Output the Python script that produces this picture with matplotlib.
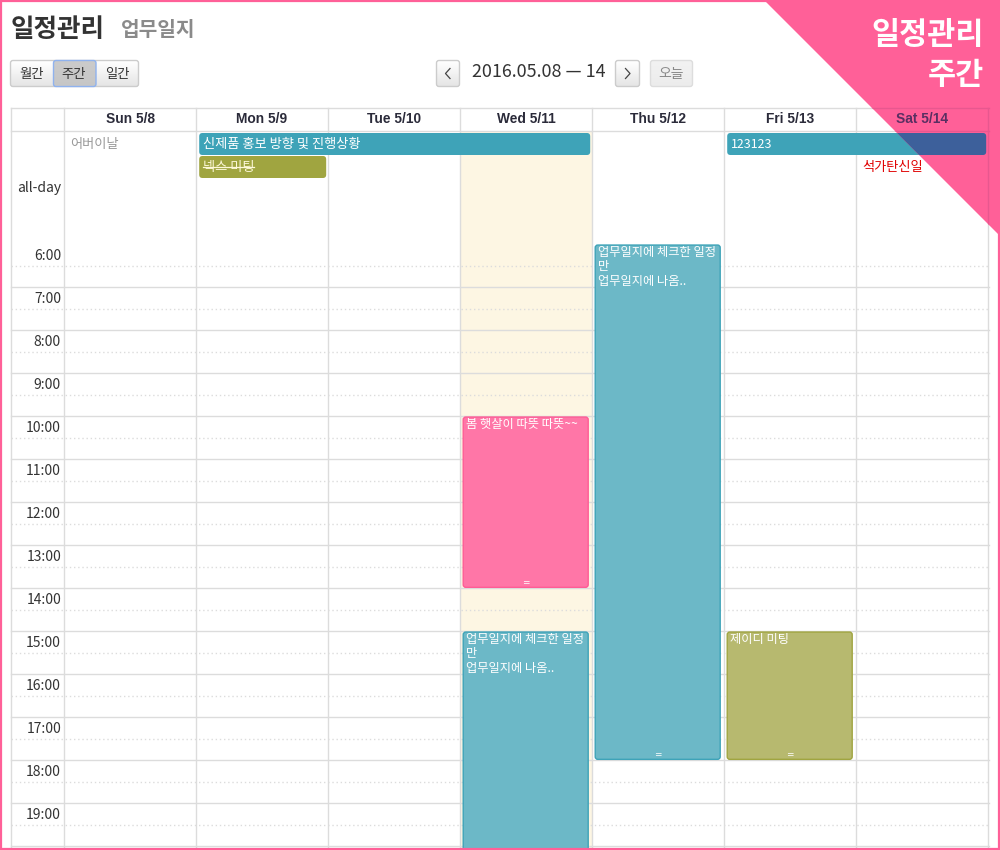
import numpy as np
import matplotlib
matplotlib.use("Agg")
import matplotlib.pyplot as plt
from matplotlib.patches import FancyBboxPatch, Polygon, Rectangle
from matplotlib.transforms import blended_transform_factory

plt.rcParams['font.family'] = ['Noto Sans CJK KR', 'DejaVu Sans']

day_labels = ["Sun 5/8", "Mon 5/9", "Tue 5/10", "Wed 5/11", "Thu 5/12", "Fri 5/13", "Sat 5/14"]
hours = [6, 7, 8, 9, 10, 11, 12, 13, 14, 15, 16, 17, 18, 19, 20]
hour_labels = ["6:00", "7:00", "8:00", "9:00", "10:00", "11:00", "12:00", "13:00",
               "14:00", "15:00", "16:00", "17:00", "18:00", "19:00"]
today_index = 3

# timed events
ev_day = [3, 3, 4, 5]
ev_start = [10, 15, 6, 15]
ev_end = [14, 20.5, 18, 18]
ev_text = ["봄 햇살이 따뜻 따뜻~~",
           "업무일지에 체크한 일정\n만\n업무일지에 나옴..",
           "업무일지에 체크한 일정\n만\n업무일지에 나옴..",
           "제이디 미팅"]
ev_fill = ["#ff76a7", "#6cb8c7", "#6cb8c7", "#b7b96f"]
ev_edge = ["#ff5c95", "#3ea3b8", "#3ea3b8", "#a0a540"]

# all-day bars
bar_first = [1, 1, 5]
bar_last = [3, 1, 6]
bar_lane = [0, 1, 0]
bar_text = ["신제품 홍보 방향 및 진행상황", "넥스 미팅", "123123"]
bar_color = ["#3ea3b8", "#a0a540", "#3ea3b8"]

holiday_day = [0, 6]
holiday_lane = [0, 1]
holiday_text = ["어버이날", "석가탄신일"]
holiday_color = ["#999999", "#e00000"]

PINK = "#ff6098"
GRID = "#dcdcdc"
W, H = 1000, 850
COL, ROW = 132.0, 43.0
X0, Y0 = 64.0, 244.4

fig = plt.figure(figsize=(10, 8.5), dpi=100, facecolor="white")

# axes in page pixels for the chrome
px = fig.add_axes([0, 0, 1, 1], zorder=2)
px.set_xlim(0, W)
px.set_ylim(H, 0)
px.axis("off")
px.patch.set_alpha(0)

# calendar axes, x in days and y in hours
ax = fig.add_axes([0, 0, 1, 1], zorder=1)
ax.set_xlim(-X0 / COL, (W - X0) / COL)
ax.set_ylim(6 + (H - Y0) / ROW, 6 - Y0 / ROW)
ax.axis("off")

day_px = blended_transform_factory(ax.transData, px.transData)
px_hour = blended_transform_factory(px.transData, ax.transData)

tri = Polygon([(764, 0), (W, 0), (W, 236)], closed=True, transform=px.transData,
              facecolor=PINK, edgecolor="none", zorder=5)
px.add_patch(tri)


def grid_lines(color, target):
    arts = []
    for h in hours:
        if h > 6:
            arts += target.plot([10.5, 989], [h, h], color=color, lw=1, zorder=2, transform=px_hour)
        arts += target.plot([10.5, 989], [h + 0.51, h + 0.51], color=color, lw=1,
                            ls=(0, (1, 2)), zorder=2, transform=px_hour)
    for d in range(8):
        arts += target.plot([d, d], [107.5, H], color=color, lw=1, zorder=2, transform=day_px)
    arts += target.plot([10.5, 10.5], [107.5, H], color=color, lw=1, zorder=2, transform=px.transData)
    for y in [107.5, 130.5]:
        arts += target.plot([10.5, 989], [y, y], color=color, lw=1, zorder=2, transform=px.transData)
    return arts


# today column
ax.add_patch(Rectangle((today_index, 131), 1, H - 131, transform=day_px,
                       facecolor="#fdf6e3", edgecolor="none", zorder=1))

grid_lines(GRID, ax)
ax.set_xlim(-X0 / COL, (W - X0) / COL)
ax.set_ylim(6 + (H - Y0) / ROW, 6 - Y0 / ROW)

# darker grid seen through the corner
for a in grid_lines("#e8578f", px):
    a.set_zorder(6)
    a.set_clip_path(tri)
px.set_xlim(0, W)
px.set_ylim(H, 0)

# header labels
for i, lab in enumerate(day_labels):
    px.text(i + 0.5, 119, lab, transform=day_px, ha="center", va="center",
            fontsize=9.9, fontweight="bold", family=["Liberation Sans", "DejaVu Sans"],
            color="#5a2f62" if i == 6 else "#2b2b3a", zorder=8)

# hour labels
for h, lab in zip(hours, hour_labels):
    px.text(61, h + 0.26, lab, transform=px_hour, ha="right", va="center",
            fontsize=10, color="#333333", zorder=8)
px.text(61, 188, "all-day", ha="right", va="center", fontsize=10, color="#333333", zorder=8)

# all-day bars
for first, last, lane, label, col in zip(bar_first, bar_last, bar_lane, bar_text, bar_color):
    top = 133 + lane * 23
    box = dict(boxstyle="round,pad=0,rounding_size=0.025", mutation_aspect=132,
               transform=day_px, linewidth=0)
    x = first + 3.2 / COL
    w = last - first + 1 - 5 / COL
    ax.add_patch(FancyBboxPatch((x, top), w, 22, facecolor=col, zorder=3, **box))
    if last == 6:
        over = FancyBboxPatch((x, top), w, 22, facecolor="#3d609b", zorder=7, **box)
        px.add_patch(over)
        over.set_clip_path(tri)
    ax.text(x + 3.5 / COL, top + 11.5, label, transform=day_px, ha="left", va="center",
            fontsize=8.9 if label.isascii() else 9.5,
            color="#fdf8d8" if col == "#a0a540" else "white", zorder=8)
    if col == "#a0a540":
        # struck through, the event is done
        ax.plot([x + 3.5 / COL, x + 55 / COL], [top + 11, top + 11], color="#fdf8d8",
                lw=0.9, transform=day_px, zorder=8)

# holidays
for d, lane, label, col in zip(holiday_day, holiday_lane, holiday_text, holiday_color):
    ax.text(d + 6 / COL, 144 + lane * 23, label, transform=day_px, ha="left", va="center",
            fontsize=9.5, color=col, zorder=4)

# timed events
for d, s, e, label, fill, edge in zip(ev_day, ev_start, ev_end, ev_text, ev_fill, ev_edge):
    x = d + 3.2 / COL
    w = 1 - 7 / COL
    ax.add_patch(FancyBboxPatch((x, s + 0.015), w, e - s - 0.04, boxstyle="round,pad=0,rounding_size=0.02",
                                mutation_aspect=COL / ROW, facecolor=fill, edgecolor=edge,
                                linewidth=1, zorder=3))
    ax.text(x + 2.5 / COL, s + 0.04, label, ha="left", va="top", fontsize=8.8, color="white",
            linespacing=1.12, zorder=4)
    if e < 20:
        ax.text(d + 0.5, e - 0.14, "=", ha="center", va="center", fontsize=6.5,
                family=["DejaVu Sans"], color="white", zorder=4)

# title
px.text(11, 29, "일정관리", ha="left", va="center", fontsize=18.4, fontweight="bold", color="#333333")
px.text(121, 29, "업무일지", ha="left", va="center", fontsize=14.6, fontweight="bold", color="#8a8a8a")
px.text(984, 35, "일정관리", ha="right", va="center", fontsize=22, fontweight="bold", color="white", zorder=9)
px.text(984, 75, "주간", ha="right", va="center", fontsize=22, fontweight="bold", color="white", zorder=9)


def button(x, y, w, h, top="#ffffff", bottom="#e4e4e4", edge="#cccccc"):
    p = FancyBboxPatch((x, y), w, h, boxstyle="round,pad=0,rounding_size=2.5",
                       facecolor="none", edgecolor=edge, linewidth=1, zorder=3)
    px.add_patch(p)
    grad = np.linspace(0, 1, 32).reshape(-1, 1)
    c0 = np.array(matplotlib.colors.to_rgb(top))
    c1 = np.array(matplotlib.colors.to_rgb(bottom))
    img = c0[None, None, :] * (1 - grad[:, :, None]) + c1[None, None, :] * grad[:, :, None]
    im = px.imshow(img, extent=(x, x + w, y + h, y), aspect="auto", zorder=2, origin="upper")
    im.set_clip_path(p)
    px.set_xlim(0, W)
    px.set_ylim(H, 0)


button(10.5, 60.5, 128, 26)
button(53.5, 60.5, 42.5, 26, top="#cbcbcb", bottom="#c6c6c6", edge="#8fb2ee")
for x, lab in zip([32, 74, 117], ["월간", "주간", "일간"]):
    px.text(x, 73.5, lab, ha="center", va="center", fontsize=9.6, color="#333333", zorder=4)

button(436.5, 60.5, 23, 26)
button(615.5, 60.5, 24, 26)
button(650.5, 60.5, 42, 26, top="#f2f2f2", bottom="#ececec", edge="#dddddd")
px.text(671.5, 73.5, "오늘", ha="center", va="center", fontsize=10, color="#888888", zorder=4)
px.plot([450, 445.5, 450], [68.5, 73.5, 78.5], color="#444444", lw=0.9, zorder=4)
px.plot([625.5, 630, 625.5], [68.5, 73.5, 78.5], color="#444444", lw=0.9, zorder=4)
px.text(539, 72, "2016.05.08 — 14", ha="center", va="center", fontsize=12.9, color="#333333", zorder=4)

# page frame
px.add_patch(Rectangle((1, 1), W - 2, H - 2, facecolor="none", edgecolor=PINK, linewidth=1.6, zorder=10))

fig.savefig("out.png", dpi=100)
